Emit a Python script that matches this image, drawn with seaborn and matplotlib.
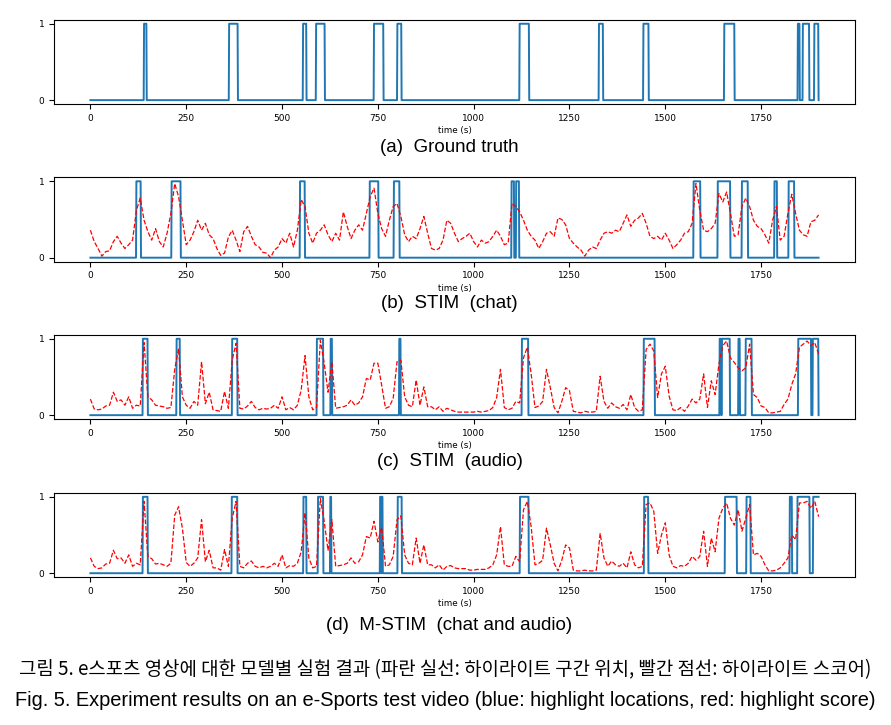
import numpy as np
import seaborn as sns
import matplotlib.pyplot as plt

# highlight intervals (s) -> blue step lines
gt_spans = [(140, 146), (362, 384), (555, 563), (589, 611), (740, 764), (801, 811),
            (1120, 1144), (1327, 1337), (1443, 1456), (1654, 1680), (1846, 1850),
            (1859, 1875), (1889, 1899)]
chat_spans = [(120, 131), (212, 235), (547, 559), (729, 751), (792, 806), (1099, 1105),
              (1111, 1118), (1574, 1591), (1637, 1669), (1700, 1715), (1785, 1791),
              (1822, 1836)]
audio_spans = [(137, 149), (225, 233), (370, 383), (591, 607), (627, 630), (806, 809),
               (1126, 1142), (1444, 1472), (1642, 1645), (1648, 1668), (1691, 1694),
               (1710, 1725), (1847, 1880), (1885, 1899)]
mstim_spans = [(137, 149), (369, 383), (556, 563), (594, 607), (626, 628), (756, 758),
               (760, 762), (802, 812), (1121, 1143), (1445, 1455), (1656, 1686),
               (1712, 1722), (1825, 1830), (1845, 1876), (1886, 1900)]

# highlight score, one value every 10 s from 0 to 1900
score_t = np.arange(0, 1901, 10)
score_chat = [
    0.36, 0.21, 0.12, 0.02, 0.08, 0.09, 0.21, 0.28, 0.19, 0.12,
    0.17, 0.23, 0.62, 0.78, 0.49, 0.34, 0.23, 0.38, 0.21, 0.14,
    0.32, 0.58, 0.97, 0.80, 0.49, 0.17, 0.23, 0.34, 0.49, 0.36,
    0.45, 0.30, 0.25, 0.12, 0.03, 0.06, 0.27, 0.36, 0.23, 0.08,
    0.34, 0.41, 0.28, 0.17, 0.14, 0.07, 0.06, 0.00, 0.10, 0.14,
    0.25, 0.19, 0.32, 0.14, 0.36, 0.76, 0.67, 0.32, 0.19, 0.32,
    0.36, 0.43, 0.30, 0.21, 0.32, 0.23, 0.60, 0.41, 0.25, 0.36,
    0.43, 0.36, 0.58, 0.80, 0.91, 0.58, 0.38, 0.28, 0.49, 0.67,
    0.71, 0.54, 0.30, 0.21, 0.28, 0.25, 0.38, 0.54, 0.32, 0.12,
    0.10, 0.12, 0.23, 0.49, 0.45, 0.32, 0.21, 0.25, 0.28, 0.32,
    0.21, 0.14, 0.23, 0.19, 0.21, 0.28, 0.36, 0.28, 0.17, 0.19,
    0.71, 0.67, 0.60, 0.49, 0.36, 0.28, 0.23, 0.12, 0.21, 0.32,
    0.34, 0.28, 0.52, 0.50, 0.43, 0.25, 0.19, 0.14, 0.10, 0.02,
    0.10, 0.14, 0.12, 0.23, 0.32, 0.34, 0.32, 0.36, 0.34, 0.45,
    0.56, 0.41, 0.49, 0.52, 0.58, 0.45, 0.28, 0.25, 0.28, 0.23,
    0.32, 0.23, 0.12, 0.17, 0.23, 0.32, 0.34, 0.45, 0.97, 0.62,
    0.36, 0.34, 0.38, 0.45, 0.84, 0.73, 0.86, 0.58, 0.28, 0.30,
    0.67, 0.78, 0.67, 0.49, 0.41, 0.38, 0.30, 0.19, 0.49, 0.67,
    0.23, 0.28, 0.58, 0.83, 0.58, 0.36, 0.30, 0.28, 0.47, 0.49,
    0.56]
score_audio = [
    0.21, 0.08, 0.07, 0.08, 0.12, 0.13, 0.30, 0.18, 0.20, 0.13,
    0.24, 0.09, 0.13, 0.12, 0.95, 0.24, 0.20, 0.13, 0.12, 0.11,
    0.09, 0.10, 0.60, 0.87, 0.24, 0.13, 0.09, 0.18, 0.13, 0.70,
    0.15, 0.30, 0.07, 0.06, 0.05, 0.31, 0.09, 0.72, 0.94, 0.09,
    0.08, 0.12, 0.18, 0.10, 0.07, 0.09, 0.08, 0.09, 0.13, 0.09,
    0.24, 0.07, 0.10, 0.07, 0.13, 0.33, 0.78, 0.24, 0.07, 0.10,
    0.98, 0.68, 0.30, 0.70, 0.09, 0.10, 0.11, 0.13, 0.20, 0.13,
    0.16, 0.24, 0.48, 0.46, 0.68, 0.68, 0.39, 0.09, 0.11, 0.22,
    0.70, 0.72, 0.24, 0.13, 0.11, 0.46, 0.13, 0.37, 0.11, 0.11,
    0.07, 0.11, 0.05, 0.09, 0.07, 0.05, 0.04, 0.04, 0.04, 0.04,
    0.04, 0.05, 0.04, 0.05, 0.06, 0.10, 0.23, 0.60, 0.10, 0.07,
    0.09, 0.18, 0.16, 0.75, 0.89, 0.54, 0.10, 0.12, 0.18, 0.60,
    0.36, 0.10, 0.03, 0.18, 0.36, 0.32, 0.05, 0.04, 0.03, 0.05,
    0.04, 0.04, 0.05, 0.51, 0.18, 0.09, 0.16, 0.11, 0.09, 0.14,
    0.07, 0.27, 0.10, 0.05, 0.07, 0.86, 0.93, 0.84, 0.23, 0.54,
    0.64, 0.25, 0.07, 0.06, 0.10, 0.05, 0.12, 0.21, 0.16, 0.21,
    0.54, 0.10, 0.45, 0.27, 0.67, 0.91, 0.97, 0.75, 0.69, 0.62,
    0.58, 0.62, 0.93, 0.27, 0.23, 0.12, 0.10, 0.03, 0.03, 0.04,
    0.05, 0.14, 0.21, 0.40, 0.54, 0.89, 0.93, 0.97, 0.91, 0.95,
    0.80]
score_mstim = [
    0.20, 0.09, 0.06, 0.07, 0.12, 0.13, 0.30, 0.19, 0.20, 0.13,
    0.24, 0.09, 0.13, 0.11, 0.94, 0.22, 0.19, 0.12, 0.13, 0.11,
    0.09, 0.13, 0.76, 0.87, 0.59, 0.14, 0.09, 0.13, 0.20, 0.70,
    0.15, 0.30, 0.07, 0.07, 0.04, 0.31, 0.09, 0.72, 0.94, 0.09,
    0.07, 0.13, 0.16, 0.09, 0.07, 0.09, 0.07, 0.09, 0.13, 0.09,
    0.24, 0.07, 0.10, 0.09, 0.13, 0.28, 0.79, 0.20, 0.07, 0.09,
    0.98, 0.68, 0.30, 0.70, 0.09, 0.10, 0.11, 0.13, 0.20, 0.13,
    0.15, 0.24, 0.48, 0.46, 0.68, 0.41, 0.60, 0.09, 0.11, 0.22,
    0.70, 0.75, 0.24, 0.13, 0.11, 0.46, 0.13, 0.37, 0.11, 0.11,
    0.07, 0.11, 0.04, 0.09, 0.10, 0.07, 0.06, 0.06, 0.06, 0.04,
    0.04, 0.05, 0.05, 0.05, 0.07, 0.11, 0.24, 0.61, 0.11, 0.09,
    0.09, 0.22, 0.15, 0.83, 0.94, 0.61, 0.11, 0.13, 0.17, 0.59,
    0.37, 0.13, 0.03, 0.17, 0.37, 0.33, 0.04, 0.03, 0.03, 0.04,
    0.03, 0.03, 0.04, 0.52, 0.20, 0.09, 0.16, 0.11, 0.09, 0.13,
    0.07, 0.28, 0.11, 0.07, 0.09, 0.90, 0.92, 0.81, 0.26, 0.50,
    0.66, 0.24, 0.09, 0.07, 0.10, 0.09, 0.13, 0.22, 0.17, 0.22,
    0.55, 0.09, 0.46, 0.28, 0.72, 0.85, 0.92, 0.72, 0.63, 0.83,
    0.55, 0.72, 0.90, 0.24, 0.26, 0.22, 0.11, 0.03, 0.03, 0.04,
    0.07, 0.13, 0.20, 0.50, 0.44, 0.92, 0.92, 0.94, 0.85, 0.94,
    0.74]

captions = ['(a)  Ground truth', '(b)  STIM  (chat)', '(c)  STIM  (audio)',
            '(d)  M-STIM  (chat and audio)']
caption_ko = ('그림 5. e스포츠 영상에 대한 모델별 실험 결과 (파란 실선: 하이라이트 구간 위치, '
              '빨간 점선: 하이라이트 스코어)')
caption_en = ('Fig. 5. Experiment results on an e-Sports test video (blue: highlight '
              'locations, red: highlight score)')

sec = np.arange(0, 1901)


def spans_to_steps(spans):
    y = np.zeros(len(sec))
    for s, e in spans:
        y[s:e + 1] = 1
    return y


fig = plt.figure(figsize=(8.91, 7.25), dpi=100)
bottoms = [0.8566, 0.6393, 0.4221, 0.2041]
cap_y = [147, 303, 461, 625]
panels = [(gt_spans, None), (chat_spans, score_chat),
          (audio_spans, score_audio), (mstim_spans, score_mstim)]

for i, (spans, score) in enumerate(panels):
    ax = fig.add_axes([0.0606, bottoms[i], 0.899, 0.1159])
    sns.lineplot(x=sec, y=spans_to_steps(spans), ax=ax, color='#1f77b4', lw=1.4)
    if score is not None:
        sns.lineplot(x=score_t, y=score, ax=ax, color='red', lw=0.9, linestyle='--')
    ax.set_xlim(-95, 1995)
    ax.set_ylim(-0.05, 1.05)
    ax.set_yticks([0, 1])
    ax.set_xticks([0, 250, 500, 750, 1000, 1250, 1500, 1750])
    ax.tick_params(labelsize=6.5)
    ax.set_xlabel('time (s)', fontsize=6.3, labelpad=2.5)
    ax.set_ylabel('')
    fig.text(0.5045, 1 - cap_y[i] / 725, captions[i], ha='center', va='center',
             fontsize=13.5, family=['Liberation Sans', 'DejaVu Sans'])

fig.text(0.5, 1 - 670 / 725, caption_ko, ha='center', va='center', fontsize=13.6,
         family=['Noto Sans CJK KR', 'DejaVu Sans'])
fig.text(0.5, 1 - 700 / 725, caption_en, ha='center', va='center', fontsize=14.4,
         family=['Liberation Sans', 'DejaVu Sans'])

fig.savefig('out.png', dpi=100)
